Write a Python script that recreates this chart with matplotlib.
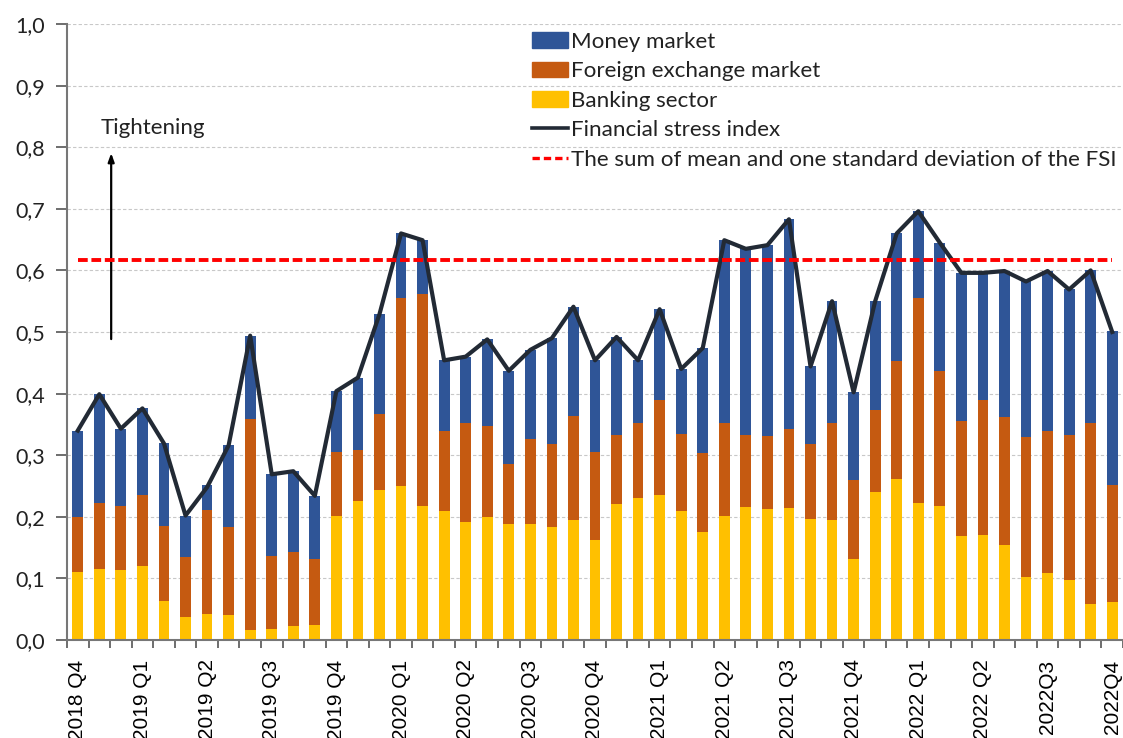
import matplotlib
matplotlib.use("Agg")
import matplotlib.pyplot as plt
from matplotlib.patches import Patch
from matplotlib.lines import Line2D
import numpy as np

# monthly observations, Oct 2018 .. Oct 2022
banking = [0.111, 0.116, 0.113, 0.120, 0.064, 0.038, 0.043, 0.041, 0.016, 0.018,
           0.022, 0.025, 0.202, 0.226, 0.244, 0.250, 0.218, 0.209, 0.192, 0.199,
           0.188, 0.188, 0.183, 0.195, 0.163, 0.220, 0.230, 0.236, 0.209, 0.176,
           0.202, 0.216, 0.213, 0.215, 0.197, 0.195, 0.132, 0.240, 0.261, 0.223,
           0.218, 0.169, 0.171, 0.155, 0.102, 0.108, 0.097, 0.059, 0.062]
fx_market = [0.088, 0.107, 0.105, 0.115, 0.121, 0.096, 0.168, 0.142, 0.343, 0.118,
             0.121, 0.107, 0.104, 0.082, 0.123, 0.305, 0.344, 0.130, 0.160, 0.148,
             0.098, 0.138, 0.135, 0.169, 0.143, 0.112, 0.123, 0.154, 0.126, 0.128,
             0.151, 0.116, 0.118, 0.128, 0.121, 0.158, 0.128, 0.134, 0.192, 0.332,
             0.219, 0.186, 0.218, 0.207, 0.227, 0.231, 0.235, 0.294, 0.189]
money_market = [0.141, 0.176, 0.125, 0.141, 0.134, 0.068, 0.040, 0.133, 0.135, 0.133,
                0.131, 0.102, 0.098, 0.118, 0.162, 0.105, 0.087, 0.115, 0.108, 0.141,
                0.151, 0.145, 0.172, 0.177, 0.148, 0.160, 0.101, 0.147, 0.105, 0.170,
                0.296, 0.305, 0.310, 0.340, 0.126, 0.197, 0.142, 0.176, 0.207, 0.141,
                0.208, 0.241, 0.207, 0.237, 0.254, 0.260, 0.237, 0.247, 0.251]
fsi = [0.340, 0.399, 0.343, 0.376, 0.319, 0.202, 0.248, 0.316, 0.494, 0.269,
       0.274, 0.234, 0.404, 0.426, 0.529, 0.660, 0.649, 0.454, 0.460, 0.488,
       0.437, 0.471, 0.490, 0.541, 0.454, 0.492, 0.454, 0.537, 0.440, 0.474,
       0.649, 0.635, 0.641, 0.683, 0.444, 0.550, 0.402, 0.550, 0.660, 0.696,
       0.645, 0.596, 0.596, 0.599, 0.582, 0.599, 0.569, 0.600, 0.500]
threshold = 0.617
quarter_labels = ["2018 Q4", "2019 Q1", "2019 Q2", "2019 Q3", "2019 Q4", "2020 Q1",
                  "2020 Q2", "2020 Q3", "2020 Q4", "2021 Q1", "2021 Q2", "2021 Q3",
                  "2021 Q4", "2022 Q1", "2022 Q2", "2022Q3", "2022Q4"]

C_MONEY = "#2F5597"
C_FX = "#C55A11"
C_BANK = "#FFC000"
C_FSI = "#222A35"

W, H = 1123, 738
fig = plt.figure(figsize=(W / 100, H / 100), dpi=100)
ax = fig.add_axes([67 / W, (H - 640) / H, 1 - 67 / W, (640 - 24) / H])

x = np.arange(len(fsi))
b1 = np.array(banking)
b2 = b1 + np.array(fx_market)
ax.bar(x, banking, width=0.5, color=C_BANK, zorder=2)
ax.bar(x, fx_market, width=0.5, bottom=b1, color=C_FX, zorder=2)
ax.bar(x, money_market, width=0.5, bottom=b2, color=C_MONEY, zorder=2)
ax.plot(x, fsi, color=C_FSI, lw=3.0, zorder=3)
ax.plot([x[0], x[-1]], [threshold, threshold], color="#FF0000", lw=2.8,
        dashes=(2.5, 0.95), zorder=4)

ax.set_xlim(-0.49, 48.17)
ax.set_ylim(0, 1.0)
ax.set_yticks(np.arange(0, 1.01, 0.1))
ax.set_yticklabels([f"{v:.1f}".replace(".", ",") for v in np.arange(0, 1.01, 0.1)],
                   fontsize=15.5, family="Lato", color="#222222")
ax.yaxis.grid(True, color="#C8C8C8", lw=0.8, ls=(0, (3, 2)), zorder=0)
ax.set_xticks(x[::3])
ax.set_xticklabels(quarter_labels, rotation=90, fontsize=15,
                   family="Liberation Sans", va="top")
ax.set_xticks(np.arange(-0.5, len(fsi), 1), minor=True)
ax.tick_params(axis="x", which="major", length=0, pad=14)
ax.tick_params(axis="x", which="minor", length=6, width=1.2, color="#555555")
ax.tick_params(axis="y", length=8, width=1.2, color="#555555", pad=8)
for s in ("top", "right"):
    ax.spines[s].set_visible(False)
for s in ("left", "bottom"):
    ax.spines[s].set_color("#777777")
    ax.spines[s].set_linewidth(1.5)

ax.annotate("", xy=(1.55, 0.795), xytext=(1.55, 0.484),
            arrowprops=dict(arrowstyle="-|>,head_length=0.5,head_width=0.18",
                            color="black", lw=1.6))
ax.text(1.05, 0.831, "Tightening", fontsize=16, family="Lato", va="center",
        ha="left", color="#222222")

handles = [Patch(color=C_MONEY), Patch(color=C_FX), Patch(color=C_BANK),
           Line2D([], [], color=C_FSI, lw=2.6),
           Line2D([], [], color="#FF0000", lw=2.4, dashes=(2.2, 1.2))]
labels = ["Money market", "Foreign exchange market", "Banking sector",
          "Financial stress index",
          "The sum of mean and one standard deviation of the FSI"]
leg = fig.legend(handles, labels, loc="upper left",
                 bbox_to_anchor=(532 / W, 1 - 32 / H), frameon=False,
                 prop=dict(family="Lato", size=16.1), handlelength=1.63,
                 handleheight=0.7, handletextpad=0.12, labelspacing=0.42,
                 borderpad=0, borderaxespad=0)
for t in leg.get_texts():
    t.set_color("#222222")

fig.savefig("out.png", dpi=100)
